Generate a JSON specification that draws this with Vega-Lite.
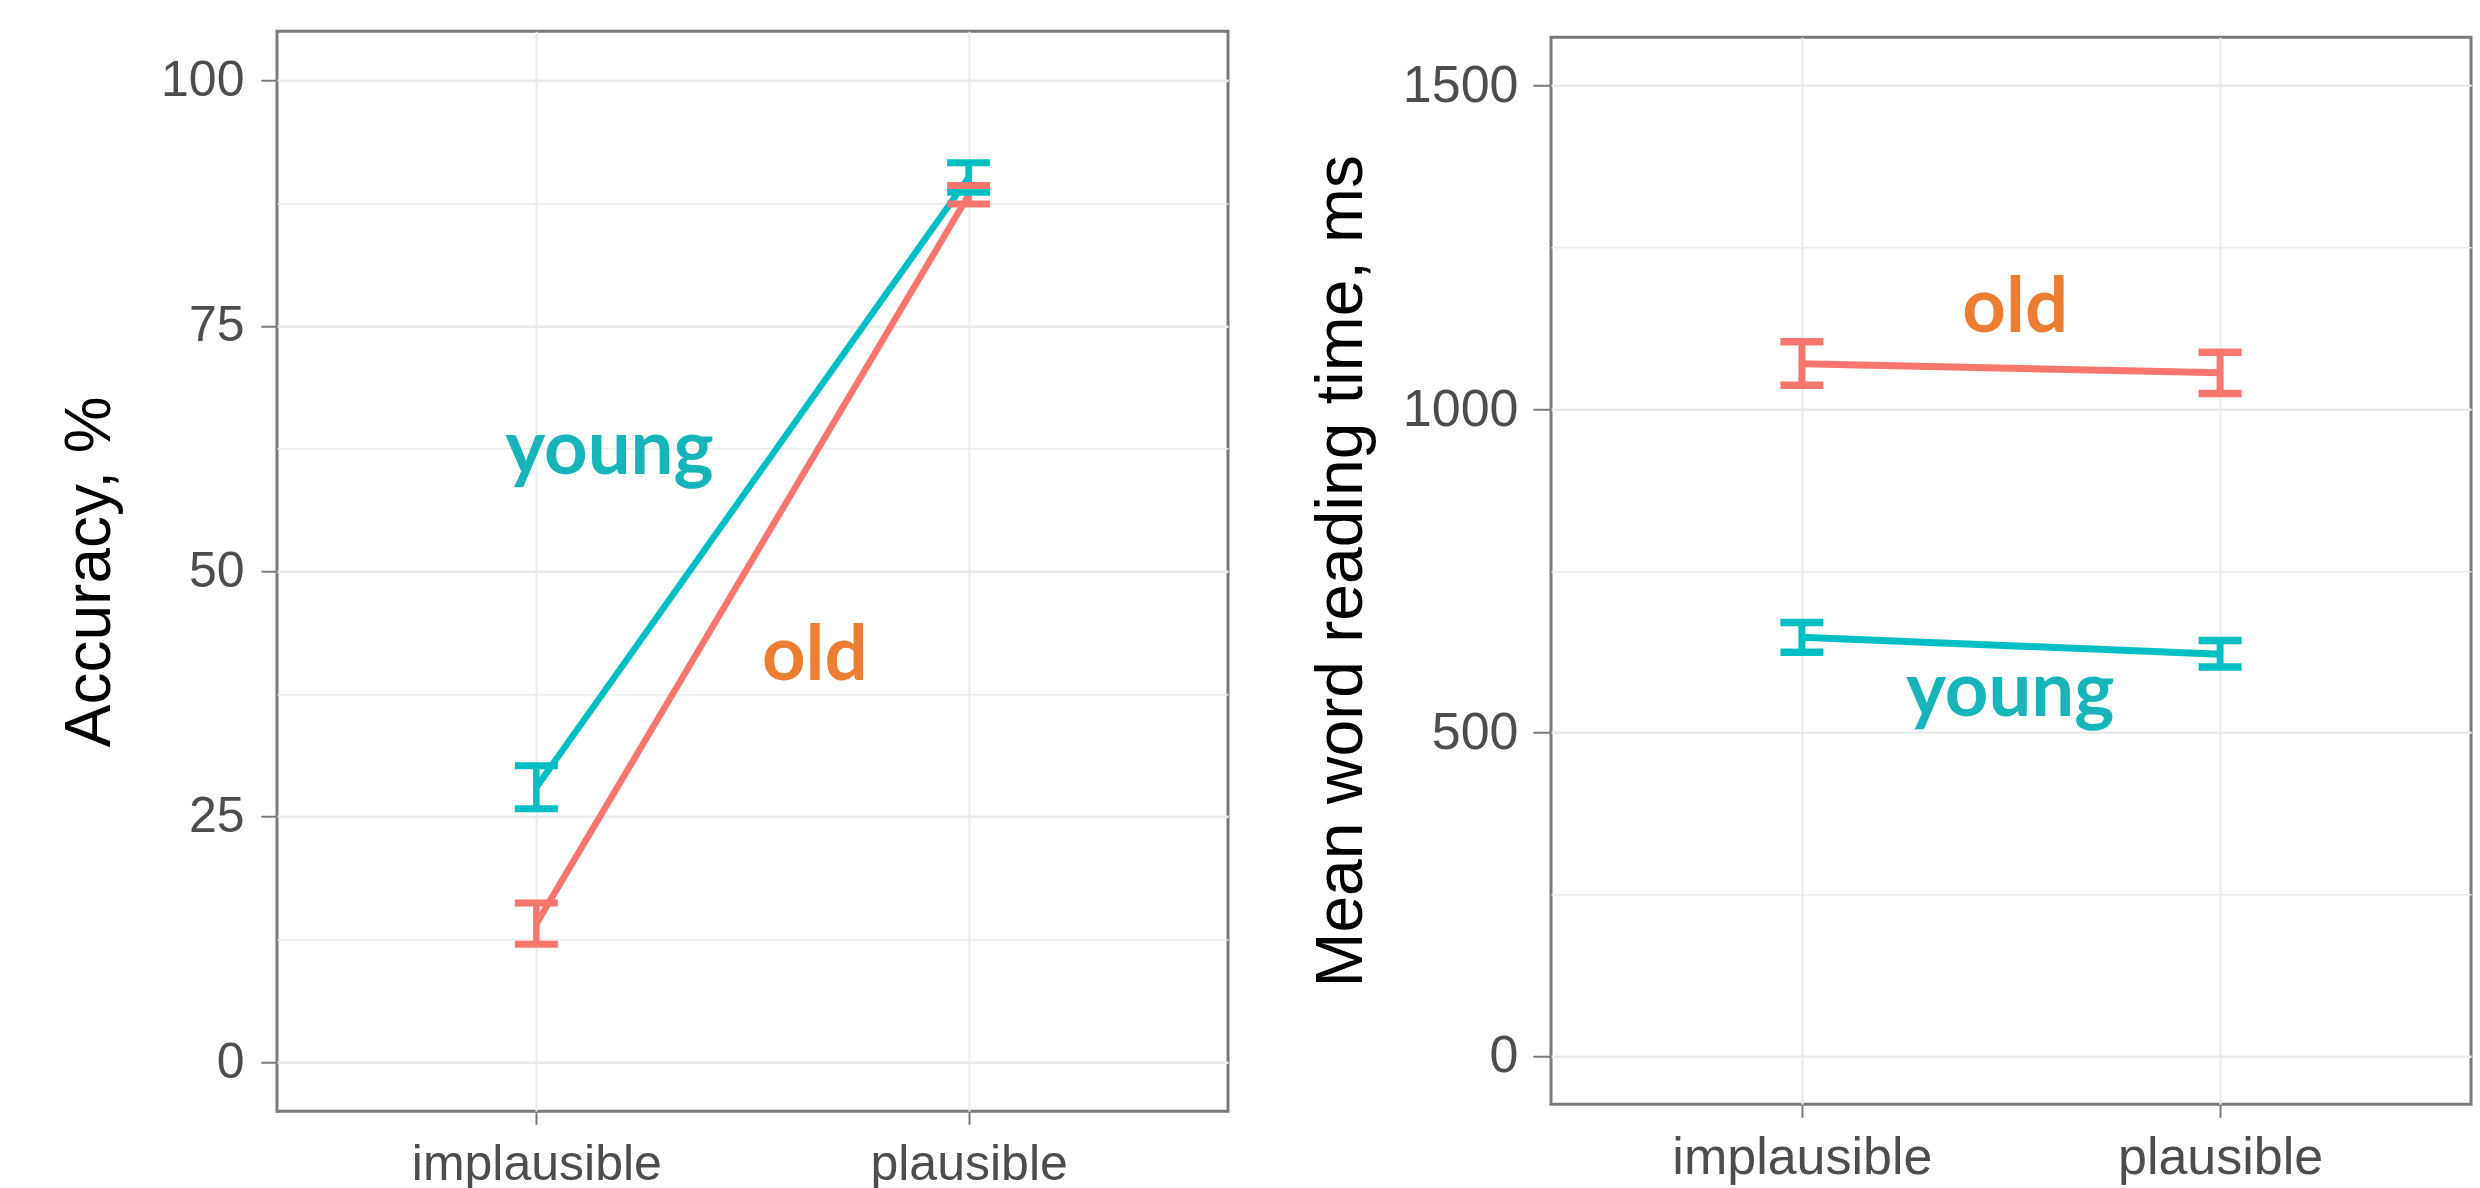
{
  "$schema": "https://vega.github.io/schema/vega-lite/v6.json",
  "background": "white",
  "padding": {"left": 57, "top": 29, "right": 5, "bottom": 0},
  "spacing": 76,
  "center": true,
  "config": {
    "view": {"stroke": "#7A7A7A", "strokeWidth": 3},
    "font": "Liberation Sans",
    "axis": {
      "labelFont": "Liberation Sans",
      "titleFont": "Liberation Sans",
      "labelColor": "#4D4D4D",
      "titleColor": "#000000",
      "titleFontWeight": "normal",
      "domain": false,
      "tickColor": "#7A7A7A",
      "tickWidth": 2,
      "gridColor": "#EBEBEB",
      "labelOverlap": false,
      "labelLimit": 0
    }
  },
  "datasets": {
    "acc": [
      {"age": "young", "plausibility": "implausible", "mean": 28.0, "lower": 25.8, "upper": 30.2},
      {"age": "young", "plausibility": "plausible", "mean": 90.1, "lower": 88.6, "upper": 91.6},
      {"age": "old", "plausibility": "implausible", "mean": 14.1, "lower": 12.0, "upper": 16.2},
      {"age": "old", "plausibility": "plausible", "mean": 88.3, "lower": 87.4, "upper": 89.3}
    ],
    "rt": [
      {"age": "young", "plausibility": "implausible", "mean": 647, "lower": 624, "upper": 670},
      {"age": "young", "plausibility": "plausible", "mean": 621, "lower": 601, "upper": 642},
      {"age": "old", "plausibility": "implausible", "mean": 1070, "lower": 1037, "upper": 1104},
      {"age": "old", "plausibility": "plausible", "mean": 1056, "lower": 1024, "upper": 1088}
    ],
    "accLabels": [
      {"label": "young", "xpos": 0.169, "ypos": 59.9},
      {"label": "old", "xpos": 0.644, "ypos": 38.9}
    ],
    "rtLabels": [
      {"label": "old", "xpos": 0.51, "ypos": 1119},
      {"label": "young", "xpos": 0.498, "ypos": 525}
    ]
  },
  "hconcat": [
    {
      "width": 951,
      "height": 1080,
      "layer": [
        {
          "data": {"name": "acc"},
          "encoding": {
            "x": {
              "field": "plausibility", "type": "nominal",
              "scale": {"type": "point", "padding": 0.6, "domain": ["implausible", "plausible"]},
              "axis": {"title": null, "labelFontSize": 50, "labelPadding": 15, "tickSize": 13, "labelAngle": 0, "grid": true, "gridWidth": 2}
            },
            "color": {"field": "age", "type": "nominal", "scale": {"domain": ["old", "young"], "range": ["#F8766D", "#00BFC4"]}, "legend": null}
          },
          "layer": [
            {
              "mark": {"type": "line", "strokeWidth": 6.5},
              "encoding": {
                "y": {
                  "field": "mean", "type": "quantitative",
                  "scale": {"domain": [-5, 105], "nice": false, "zero": false},
                  "axis": {
                    "title": "Accuracy, %", "titleFontSize": 64, "titlePadding": 38,
                    "labelFontSize": 50, "labelPadding": 17, "tickSize": 16,
                    "values": [0, 12.5, 25, 37.5, 50, 62.5, 75, 87.5, 100],
                    "labelExpr": "datum.value % 25 == 0 ? datum.label : ''",
                    "tickOpacity": {"condition": {"test": "datum.value % 25 != 0", "value": 0}, "value": 1},
                    "gridWidth": {"condition": {"test": "datum.value % 25 != 0", "value": 1.5}, "value": 2.5}
                  }
                }
              }
            },
            {
              "mark": {"type": "rule", "strokeWidth": 6.5},
              "encoding": {
                "y": {"field": "lower", "type": "quantitative", "title": "Accuracy, %"},
                "y2": {"field": "upper"}
              }
            },
            {
              "mark": {"type": "tick", "size": 43, "thickness": 7, "opacity": 1},
              "encoding": {"y": {"field": "lower", "type": "quantitative", "title": "Accuracy, %"}}
            },
            {
              "mark": {"type": "tick", "size": 43, "thickness": 7, "opacity": 1},
              "encoding": {"y": {"field": "upper", "type": "quantitative", "title": "Accuracy, %"}}
            }
          ]
        },
        {
          "data": {"name": "accLabels"},
          "mark": {"type": "text", "font": "Lato", "fontWeight": "bold", "fontSize": 76, "align": "center", "baseline": "alphabetic"},
          "encoding": {
            "x": {"field": "xpos", "type": "quantitative", "scale": {"domain": [-0.6, 1.6], "nice": false, "zero": false}, "axis": null},
            "y": {"field": "ypos", "type": "quantitative", "title": "Accuracy, %"},
            "text": {"field": "label"},
            "color": {"field": "label", "type": "nominal", "scale": {"domain": ["old", "young"], "range": ["#ED7D31", "#17B5B9"]}, "legend": null}
          }
        }
      ],
      "resolve": {"scale": {"x": "independent", "color": "independent"}}
    },
    {
      "width": 920,
      "height": 1067,
      "layer": [
        {
          "data": {"name": "rt"},
          "encoding": {
            "x": {
              "field": "plausibility", "type": "nominal",
              "scale": {"type": "point", "padding": 0.6, "domain": ["implausible", "plausible"]},
              "axis": {"title": null, "labelFontSize": 52, "labelPadding": 15, "tickSize": 13, "labelAngle": 0, "grid": true, "gridWidth": 2}
            },
            "color": {"field": "age", "type": "nominal", "scale": {"domain": ["old", "young"], "range": ["#F8766D", "#00BFC4"]}, "legend": null}
          },
          "layer": [
            {
              "mark": {"type": "line", "strokeWidth": 7},
              "encoding": {
                "y": {
                  "field": "mean", "type": "quantitative",
                  "scale": {"domain": [-75, 1575], "nice": false, "zero": false},
                  "axis": {
                    "title": "Mean word reading time, ms", "titleFontSize": 66, "titlePadding": 27,
                    "labelFontSize": 52, "labelPadding": 15, "tickSize": 18, "format": "d",
                    "values": [0, 250, 500, 750, 1000, 1250, 1500],
                    "labelExpr": "datum.value % 500 == 0 ? datum.label : ''",
                    "tickOpacity": {"condition": {"test": "datum.value % 500 != 0", "value": 0}, "value": 1},
                    "gridWidth": {"condition": {"test": "datum.value % 500 != 0", "value": 1.5}, "value": 2.5}
                  }
                }
              }
            },
            {
              "mark": {"type": "rule", "strokeWidth": 7},
              "encoding": {
                "y": {"field": "lower", "type": "quantitative", "title": "Mean word reading time, ms"},
                "y2": {"field": "upper"}
              }
            },
            {
              "mark": {"type": "tick", "size": 43, "thickness": 7.5, "opacity": 1},
              "encoding": {"y": {"field": "lower", "type": "quantitative", "title": "Mean word reading time, ms"}}
            },
            {
              "mark": {"type": "tick", "size": 43, "thickness": 7.5, "opacity": 1},
              "encoding": {"y": {"field": "upper", "type": "quantitative", "title": "Mean word reading time, ms"}}
            }
          ]
        },
        {
          "data": {"name": "rtLabels"},
          "mark": {"type": "text", "font": "Lato", "fontWeight": "bold", "fontSize": 76, "align": "center", "baseline": "alphabetic"},
          "encoding": {
            "x": {"field": "xpos", "type": "quantitative", "scale": {"domain": [-0.6, 1.6], "nice": false, "zero": false}, "axis": null},
            "y": {"field": "ypos", "type": "quantitative", "title": "Mean word reading time, ms"},
            "text": {"field": "label"},
            "color": {"field": "label", "type": "nominal", "scale": {"domain": ["old", "young"], "range": ["#ED7D31", "#17B5B9"]}, "legend": null}
          }
        }
      ],
      "resolve": {"scale": {"x": "independent", "color": "independent"}}
    }
  ]
}
